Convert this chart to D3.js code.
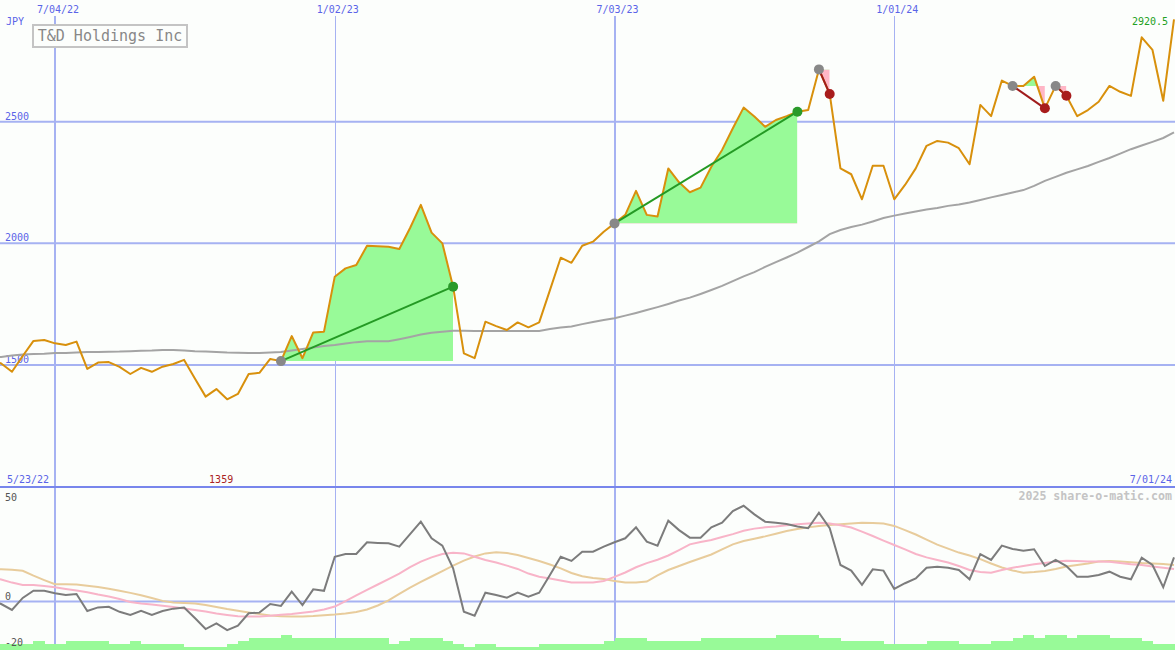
<!DOCTYPE html>
<html><head><meta charset="utf-8">
<script src="https://cdn.jsdelivr.net/npm/d3@7"></script>
<style>html,body{margin:0;padding:0;background:#fcfefc;} svg{display:block;}</style>
</head><body><svg id="c" width="1175" height="650"></svg>
<script>
// ---------- data ----------
const startDate = "5/23/22", endDate = "7/01/24";
const price = [
 1525,1506,1472,1537,1599,1603,1589,1582,1596,1484,
 1510,1512,1492,1463,1488,1472,1493,1504,1521,1445,
 1370,1401,1359,1381,1463,1468,1525,1516,1619,1528,
 1634,1637,1863,1897,1911,1990,1988,1986,1977,2063,
 2158,2044,2000,1822,1548,1528,1678,1660,1644,1675,
 1655,1675,1808,1941,1920,1990,2007,2048,2082,2117,
 2216,2117,2110,2308,2251,2210,2229,2315,2384,2473,
 2558,2521,2479,2507,2523,2541,2548,2715,2614,2308,
 2284,2181,2319,2319,2181,2240,2308,2401,2421,2414,
 2391,2325,2569,2523,2669,2647,2647,2685,2555,2647,
 2607,2523,2548,2582,2647,2623,2606,2847,2795,2586,
 2920.5];
const movingAvg = [
 1529,1533,1539,1543,1545,1546,1549,1549,1551,1553,
 1553,1554,1555,1557,1559,1560,1562,1562,1560,1557,
 1555,1553,1551,1550,1549,1549,1551,1553,1560,1566,
 1572,1578,1582,1588,1594,1598,1598,1598,1606,1615,
 1625,1633,1637,1641,1641,1640,1640,1640,1640,1640,
 1640,1640,1648,1654,1658,1668,1677,1685,1692,1703,
 1714,1726,1738,1751,1765,1777,1792,1808,1825,1845,
 1864,1882,1903,1923,1942,1962,1985,2008,2038,2055,
 2067,2077,2090,2104,2114,2123,2131,2139,2145,2154,
 2160,2168,2178,2189,2199,2209,2219,2236,2257,2273,
 2290,2304,2318,2335,2351,2369,2387,2402,2417,2433,
 2456];
const osc = [
 0.7,-1.2,-4.0,1.7,5.1,5.1,3.9,3.1,3.6,-4.5,
 -2.8,-2.5,-4.9,-6.4,-4.4,-6.4,-4.5,-3.4,-2.9,-7.9,
 -13.1,-10.4,-13.6,-11.5,-5.6,-5.3,-1.2,-2.1,4.7,-1.7,
 5.8,5.1,21.3,22.6,22.6,28.2,27.9,27.7,26.1,32.1,
 38.0,30.1,26.6,15.8,-4.9,-6.8,4.2,3.1,1.8,4.2,
 2.3,4.2,12.6,21.3,19.3,23.7,23.7,26.1,28.2,30.1,
 35.3,28.5,26.6,38.5,34.0,30.4,30.4,35.3,37.5,43.1,
 45.6,41.5,38.0,37.5,36.9,35.7,34.9,42.3,34.9,17.4,
 14.7,7.9,15.3,14.7,6.0,8.7,11.0,16.1,16.6,16.1,
 15.0,10.6,22.6,19.8,26.6,25.0,24.2,24.9,16.9,19.8,
 16.9,11.8,11.8,12.6,14.2,11.8,10.6,20.9,17.4,6.8,
 21.0];
const oscFast = [
 11.7,10.5,9.0,7.9,7.9,7.4,6.8,6.0,5.2,4.4,
 3.3,2.4,1.2,-0.2,-1.0,-1.4,-2.0,-2.6,-3.3,-4.0,
 -4.8,-5.7,-6.4,-7.0,-7.1,-7.2,-6.8,-6.3,-6.0,-5.4,
 -4.8,-3.8,-2.4,0.2,2.9,5.5,8.1,10.7,13.3,16.4,
 19.0,21.0,22.6,23.2,22.9,21.3,19.8,18.6,17.1,15.5,
 13.3,11.8,11.0,10.0,9.1,9.0,9.1,9.8,11.7,13.8,
 16.3,18.3,19.9,21.9,24.5,27.2,28.3,29.3,30.7,32.1,
 33.7,34.7,35.3,35.7,36.3,36.8,37.2,37.5,37.1,36.3,
 35.2,33.3,31.2,29.0,26.9,24.8,22.6,21.0,19.8,18.6,
 16.9,15.0,14.0,13.7,15.0,16.1,16.9,17.7,18.3,19.0,
 19.4,19.3,19.1,19.0,18.9,18.3,17.7,17.4,16.7,16.1,
 15.5];
const oscSlow = [
 15.5,15.3,15.1,14.6,12.3,10.2,8.2,8.2,8.1,7.5,
 6.9,6.1,5.1,4.1,3.0,1.7,0.3,-0.5,-0.7,-1.0,
 -1.7,-2.6,-3.6,-4.4,-5.2,-6.0,-6.7,-7.0,-7.2,-7.1,
 -6.9,-6.5,-6.2,-5.7,-5.0,-3.8,-1.9,0.5,3.6,6.6,
 9.3,11.9,14.5,17.1,19.5,21.4,22.9,23.5,23.1,22.1,
 20.7,19.3,17.6,15.8,13.6,12.0,11.2,10.7,9.8,9.0,
 9.1,9.5,12.4,15.0,16.9,18.8,20.6,22.4,24.8,27.2,
 28.8,29.9,31.0,32.3,33.6,34.5,35.3,35.9,36.4,36.8,
 37.1,37.5,37.4,37.1,36.0,34.0,31.9,29.5,27.1,25.2,
 23.3,21.9,20.2,18.1,16.2,14.8,13.7,14.0,14.5,15.5,
 16.7,17.4,18.1,19.0,19.3,19.0,18.7,18.3,18.1,17.9,
 17.4];
const volume = [
 2,2,2,2,3,2,2,3,3,3,
 3,2,2,3,2,2,2,2,1,1,
 1,1,2,3,4,4,4,5,4,4,
 4,4,4,4,4,4,4,2,3,4,
 4,4,3,2,1,2,2,1,1,1,
 1,2,2,2,2,2,2,3,4,4,
 4,3,3,3,3,3,4,4,4,4,
 4,4,4,5,5,5,5,4,4,3,
 3,3,3,2,2,2,2,3,3,3,
 2,2,2,3,3,4,5,4,5,5,
 4,5,5,5,4,4,4,3,2,2,
 2];
const dateTicks = ["7/04/22","1/02/23","7/03/23","1/01/24"];
const majorDateTicks = ["7/04/22","7/03/23"];
const priceTicks = [1500, 2000, 2500];
const oscTicks = [50, 0, -20];
const signals = [
 {from:27, to:43, kind:"buy"},
 {from:58, to:75, kind:"buy"},
 {from:77, to:78, kind:"sell"},
 {from:95, to:98, kind:"sell"},
 {from:99, to:100, kind:"sell"}];
const title = "T&D Holdings Inc";
const currency = "JPY";
const lowLabel = "1359";
const lastLabel = "2920.5";
const credit = "2025 share-o-matic.com";

// ---------- drawing ----------
const W = 1175, H = 650;
const FONT = "'DejaVu Sans Mono', 'Liberation Mono', monospace";
const parse = d3.utcParse("%m/%d/%y");
const dates = d3.utcMonday.range(parse(startDate), d3.utcDay.offset(parse(endDate), 1));
const x = d3.scaleUtc().domain([parse("7/04/22"), parse(endDate)]).range([55, 1174]);
const y = d3.scaleLinear().domain([1500, 2500]).range([365, 121.7]);
const yo = d3.scaleLinear().domain([0, 50]).range([601.5, 496.5]);
const yv = d3.scaleLinear().domain([0, 5]).range([650, 635]);
const X = i => x(dates[i]);

const svg = d3.select("#c");
svg.append("rect").attr("width", W).attr("height", H).attr("fill", "#fcfefc");
const defs = svg.append("defs");
defs.append("clipPath").attr("id", "topClip").append("rect").attr("x", 0).attr("y", 0).attr("width", W).attr("height", 486);
defs.append("clipPath").attr("id", "botClip").append("rect").attr("x", 0).attr("y", 488).attr("width", W).attr("height", H - 488);

const gridCol = "#a6b2f2";
// vertical date grid
dateTicks.forEach(t => {
  const major = majorDateTicks.includes(t);
  const xx = major ? Math.round(x(parse(t))) : Math.round(x(parse(t))) + 0.5;
  svg.append("line").attr("x1", xx).attr("x2", xx).attr("y1", 16).attr("y2", H)
    .attr("stroke", gridCol).attr("stroke-width", major ? 2 : 1);
  svg.append("text").attr("x", x(parse(t)) + 3).attr("y", 13).attr("text-anchor", "middle")
    .attr("font-family", FONT).attr("font-size", 10).attr("fill", "#5a64e8").text(t);
});
// horizontal price grid
priceTicks.forEach(v => {
  svg.append("line").attr("x1", 0).attr("x2", W).attr("y1", y(v)).attr("y2", y(v))
    .attr("stroke", gridCol).attr("stroke-width", 2);
});
// oscillator zero line
svg.append("line").attr("x1", 0).attr("x2", W).attr("y1", yo(0)).attr("y2", yo(0))
  .attr("stroke", gridCol).attr("stroke-width", 2);
// panel divider
svg.append("line").attr("x1", 0).attr("x2", W).attr("y1", 487).attr("y2", 487)
  .attr("stroke", "#7886ec").attr("stroke-width", 2);

// price tick labels
priceTicks.forEach(v => {
  svg.append("text").attr("x", 5).attr("y", y(v) - 2).attr("font-family", FONT)
    .attr("font-size", 10).attr("fill", "#5a64e8").text(v);
});
svg.append("text").attr("x", 6).attr("y", 25).attr("font-family", FONT)
  .attr("font-size", 10).attr("fill", "#5a64e8").text(currency);

// volume bars
const gb = svg.append("g").attr("clip-path", "url(#botClip)");
const step = X(1) - X(0);
gb.selectAll("rect.vol").data(volume).join("rect")
  .attr("x", (d, i) => X(i)).attr("width", step + 0.3)
  .attr("y", d => yv(d)).attr("height", d => H - yv(d))
  .attr("fill", "#98fa98").attr("shape-rendering", "crispEdges");

// oscillator lines
const lineO = arr => d3.line().x((d, i) => X(i)).y(d => yo(d))(arr);
gb.append("path").attr("d", lineO(oscSlow)).attr("fill", "none").attr("stroke", "#e8cc9c").attr("stroke-width", 2);
gb.append("path").attr("d", lineO(oscFast)).attr("fill", "none").attr("stroke", "#f8b4c8").attr("stroke-width", 2);
gb.append("path").attr("d", lineO(osc)).attr("fill", "none").attr("stroke", "#7c7c7c").attr("stroke-width", 2);

// top panel
const gt = svg.append("g").attr("clip-path", "url(#topClip)");
// signal fills
signals.forEach((s, k) => {
  const idx = d3.range(s.from, s.to + 1);
  const base = y(price[s.from]);
  const area = d3.area().x(i => X(i)).y0(base).y1(i => y(price[i]))(idx);
  const x0 = X(s.from), x1 = X(s.to);
  defs.append("clipPath").attr("id", "up" + k).append("rect")
    .attr("x", x0).attr("y", 0).attr("width", x1 - x0).attr("height", base);
  defs.append("clipPath").attr("id", "dn" + k).append("rect")
    .attr("x", x0).attr("y", base).attr("width", x1 - x0).attr("height", 486 - base);
  gt.append("path").attr("d", area).attr("fill", "#98fa98").attr("clip-path", `url(#up${k})`);
  gt.append("path").attr("d", area).attr("fill", "#ffb6c6").attr("clip-path", `url(#dn${k})`);
});
// moving average
const lineP = arr => d3.line().x((d, i) => X(i)).y(d => y(d))(arr);
gt.append("path").attr("d", lineP(movingAvg)).attr("fill", "none").attr("stroke", "#a4a4a4").attr("stroke-width", 2);
// price
gt.append("path").attr("d", lineP(price)).attr("fill", "none").attr("stroke", "#d8900c").attr("stroke-width", 2)
  .attr("stroke-linejoin", "round");
// signal lines and dots
signals.forEach(s => {
  const col = s.kind === "buy" ? "#249a24" : "#a01c1c";
  gt.append("line").attr("x1", X(s.from)).attr("y1", y(price[s.from]))
    .attr("x2", X(s.to)).attr("y2", y(price[s.to])).attr("stroke", col).attr("stroke-width", 2);
});
signals.forEach(s => {
  gt.append("circle").attr("cx", X(s.from)).attr("cy", y(price[s.from])).attr("r", 5).attr("fill", "#888888");
  gt.append("circle").attr("cx", X(s.to)).attr("cy", y(price[s.to])).attr("r", 5)
    .attr("fill", s.kind === "buy" ? "#2a9a2a" : "#a81c1c");
});

// title box
svg.append("rect").attr("x", 33).attr("y", 25).attr("width", 154).attr("height", 22)
  .attr("fill", "#fcfefc").attr("stroke", "#c4c4c4").attr("stroke-width", 2);
svg.append("text").attr("x", 110).attr("y", 41).attr("text-anchor", "middle").attr("font-family", FONT)
  .attr("font-size", 15).attr("fill", "#888888").text(title);

// bottom-of-top-panel labels
svg.append("text").attr("x", 7).attr("y", 483).attr("font-family", FONT).attr("font-size", 10)
  .attr("fill", "#5a64e8").text(startDate);
svg.append("text").attr("x", 1172).attr("y", 483).attr("text-anchor", "end").attr("font-family", FONT)
  .attr("font-size", 10).attr("fill", "#5a64e8").text(endDate);
const lowIdx = d3.minIndex(price);
svg.append("text").attr("x", X(lowIdx) - 6).attr("y", 483).attr("text-anchor", "middle").attr("font-family", FONT)
  .attr("font-size", 10).attr("fill", "#aa2222").text(lowLabel);
svg.append("text").attr("x", 1168).attr("y", 25).attr("text-anchor", "end").attr("font-family", FONT)
  .attr("font-size", 10).attr("fill", "#22a022").text(lastLabel);

// oscillator labels
oscTicks.forEach(v => {
  const yy = v === 0 ? yo(v) - 2 : (v === -20 ? 646 : yo(v) + 4);
  svg.append("text").attr("x", 5).attr("y", yy).attr("font-family", FONT).attr("font-size", 10)
    .attr("fill", "#555555").text(v);
});
svg.append("text").attr("x", 1172).attr("y", 500).attr("text-anchor", "end").attr("font-family", FONT)
  .attr("font-size", 11.6).attr("font-weight", "bold").attr("fill", "#c4c4c4").text(credit);
</script></body></html>
